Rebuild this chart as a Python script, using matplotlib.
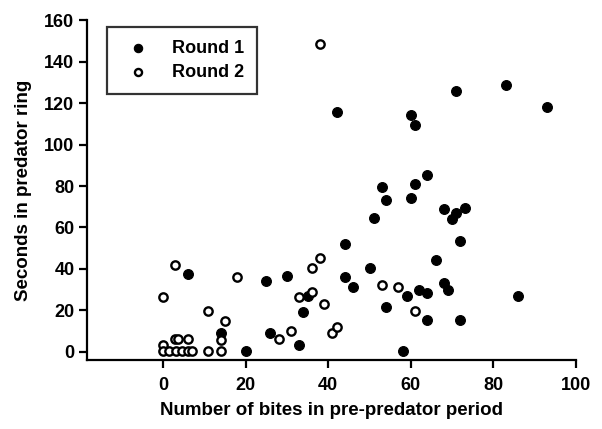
import matplotlib
matplotlib.use("Agg")
import matplotlib.pyplot as plt

plt.rcParams['font.family'] = ['Liberation Sans', 'DejaVu Sans']

# Round 1 (filled)
r1_x = [6, 14, 20, 25, 26, 30, 33, 34, 35, 42, 44, 44, 46, 50, 51, 53, 54, 54,
        58, 59, 60, 60, 61, 61, 62, 64, 64, 64, 66, 68, 68, 69, 70, 71, 71, 72,
        72, 73, 83, 86, 93]
r1_y = [37.6, 9, 0.3, 34, 9, 36.8, 3.2, 19.2, 27, 115.7, 52, 36, 31.5, 40.3,
        64.5, 79.7, 73.1, 21.6, 0.3, 27, 74.4, 114.4, 109.6, 81.1, 29.6, 85.1,
        28.3, 15.2, 44.5, 69, 33.1, 29.9, 64, 67, 126, 53.6, 15.5, 69.6, 128.5,
        26.7, 117.9]

# Round 2 (open)
r2_x = [38, 3, 0, 18, 11, 15, 14, 14, 11, 0, 0, 1.4, 3.1, 4.7, 6.1, 7, 2.8,
        3.7, 6.1, 28, 31, 33, 36, 36, 38, 39, 41, 42, 53, 57, 61]
r2_y = [148.3, 41.9, 26.4, 36, 19.5, 14.7, 5.6, 0.3, 0.3, 3.2, 0.3, 0.3, 0.3,
        0.3, 0.3, 0.3, 6.4, 6.4, 6.4, 6.4, 9.9, 26.4, 28.8, 40.3, 45.1, 22.9,
        9.1, 12, 32.3, 31.2, 19.7]

x_ticks = [0, 20, 40, 60, 80, 100]
y_ticks = [0, 20, 40, 60, 80, 100, 120, 140, 160]

fig = plt.figure(figsize=(6.02, 4.29), dpi=100)
ax = fig.add_axes([0.1445, 0.161, 0.8125, 0.792])

ax.scatter(r1_x, r1_y, s=50, c='black', edgecolors='black', linewidths=0.8,
           label='Round 1', zorder=3)
ax.scatter(r2_x, r2_y, s=36, facecolors='white', edgecolors='black',
           linewidths=1.7, label='Round 2', zorder=4)

ax.set_xlim(-18.4, 100)
ax.set_ylim(-3.9, 160)
ax.set_xticks(x_ticks)
ax.set_yticks(y_ticks)

for s in ['top', 'right']:
    ax.spines[s].set_visible(False)
for s in ['left', 'bottom']:
    ax.spines[s].set_linewidth(1.6)

ax.tick_params(direction='out', length=6, width=1.6, labelsize=13)
ax.tick_params(axis='x', pad=6)
ax.tick_params(axis='y', pad=3)
for lab in ax.get_xticklabels() + ax.get_yticklabels():
    lab.set_fontweight('bold')

ax.set_xlabel('Number of bites in pre-predator period', fontsize=13.5,
              fontweight='bold', labelpad=6)
ax.set_ylabel('Seconds in predator ring', fontsize=13.5, fontweight='bold',
              labelpad=9)

leg = ax.legend(loc='upper left', bbox_to_anchor=(0.041, 0.979),
                borderaxespad=0, frameon=True, fancybox=False,
                edgecolor='black', markerscale=0.85,
                prop={'weight': 'bold', 'size': 13}, handletextpad=0.9,
                borderpad=0.7, labelspacing=0.4)
leg.get_frame().set_linewidth(1.6)

fig.savefig('out.png', dpi=100)
